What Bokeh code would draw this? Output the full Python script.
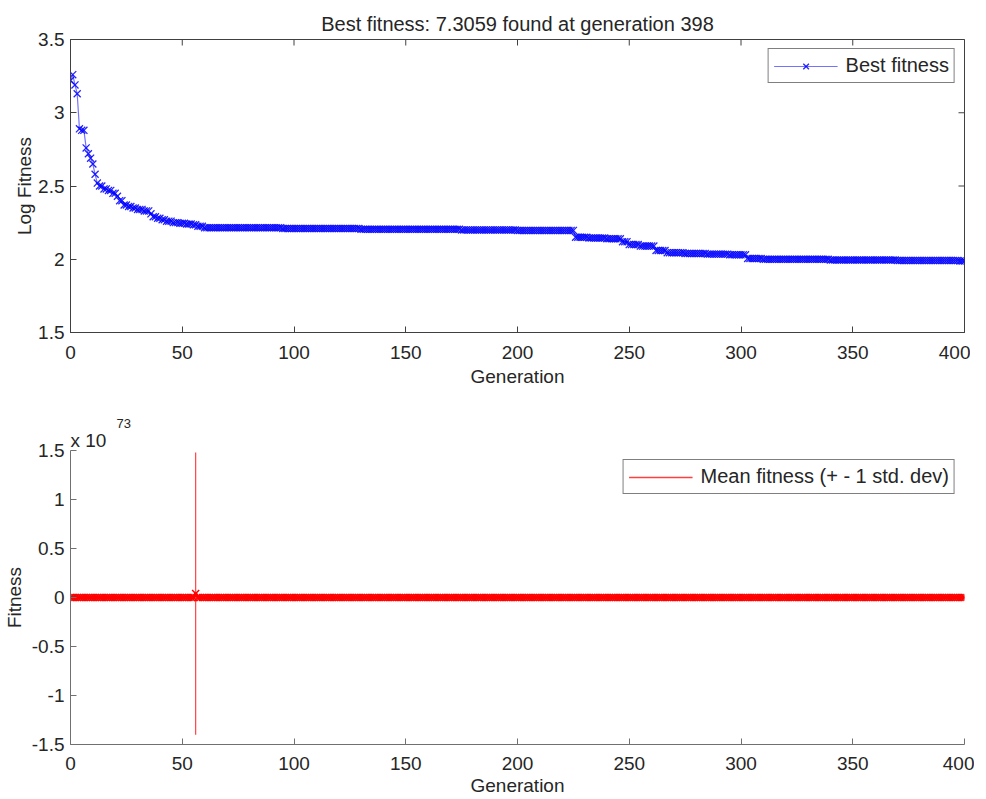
import math
from bokeh.plotting import figure
from bokeh.layouts import column
from bokeh.models import (Range1d, FixedTicker, Legend, LegendItem, ColumnDataSource, Title)
from bokeh.embed import file_html
from bokeh.resources import INLINE

FONT = "Liberation Sans"
TXT = "#262626"

# ---------------- data ----------------
generations = list(range(0, 401))

# Log best fitness: generation at which the value changes, and the new value
best_change_gen = [0, 1, 2, 3, 4, 5, 7, 8, 9, 10, 11, 12, 13, 15, 17, 19, 21, 22, 24, 26,
                   28, 30, 33, 36, 37, 39, 41, 43, 46, 49, 52, 55, 57, 60, 95, 130, 175, 200,
                   226, 232, 240, 247, 250, 255, 262, 267, 275, 285, 295, 303, 310, 340, 370, 398]
best_change_val = [3.22, 3.26, 3.19, 3.13, 2.89, 2.88, 2.76, 2.72, 2.69, 2.65, 2.58, 2.52, 2.50,
                   2.48, 2.47, 2.45, 2.43, 2.40, 2.37, 2.36, 2.35, 2.34, 2.33, 2.31, 2.29, 2.28,
                   2.27, 2.26, 2.25, 2.245, 2.24, 2.235, 2.225, 2.215, 2.21, 2.205, 2.20, 2.197,
                   2.15, 2.145, 2.14, 2.12, 2.10, 2.09, 2.06, 2.045, 2.04, 2.035, 2.03, 2.005,
                   2.0, 1.995, 1.992, 1.9887]

# Mean fitness and std. dev. (units of 1e73): generation of change, new value
mean_change_gen = [0, 56, 57]
mean_change_val = [0.0, 0.04, 0.0]
std_change_gen = [0, 56, 57]
std_change_val = [0.0, 1.44, 0.0]

x_ticks = [0, 50, 100, 150, 200, 250, 300, 350, 400]
x_labels = ["0", "50", "100", "150", "200", "250", "300", "350", "400"]
y1_ticks = [1.5, 2.0, 2.5, 3.0, 3.5]
y1_labels = ["1.5", "2", "2.5", "3", "3.5"]
y2_ticks = [-1.5, -1.0, -0.5, 0.0, 0.5, 1.0, 1.5]
y2_labels = ["-1.5", "-1", "-0.5", "0", "0.5", "1", "1.5"]

X_MIN, X_MAX = 0, 400
Y1_MIN, Y1_MAX = 1.5, 3.5
Y2_MIN, Y2_MAX = -1.5, 1.5

title_text = "Best fitness: 7.3059 found at generation 398"
scale_text = "x 10"
exponent_text = "73"


def expand(change_gen, change_val, gens):
    out = []
    j = 0
    for g in gens:
        while j + 1 < len(change_gen) and change_gen[j + 1] <= g:
            j += 1
        out.append(change_val[j])
    return out


best = expand(best_change_gen, best_change_val, generations)
mean = expand(mean_change_gen, mean_change_val, generations)
std = expand(std_change_gen, std_change_val, generations)


def style_axis(ax, ticks, labels, color):
    ax.ticker = FixedTicker(ticks=ticks)
    ax.major_label_overrides = {float(t): l for t, l in zip(ticks, labels)}
    ax.minor_tick_line_color = None
    ax.major_tick_in = 6
    ax.major_tick_out = 0
    ax.major_tick_line_color = color
    ax.axis_line_color = color
    ax.major_label_text_font = FONT
    ax.major_label_text_color = TXT
    ax.major_label_text_font_size = "19px"
    ax.axis_label_text_font = FONT
    ax.axis_label_text_font_style = "normal"
    ax.axis_label_text_color = TXT
    ax.axis_label_text_font_size = "19px"


def make_legend(label, renderers):
    return Legend(items=[LegendItem(label=label, renderers=renderers)],
                  location="top_right", margin=9, padding=5, spacing=0,
                  glyph_width=64, glyph_height=20, label_height=20, label_standoff=8,
                  label_text_font=FONT, label_text_font_size="20px", label_text_color=TXT,
                  border_line_color="#000000", border_line_width=1,
                  background_fill_color="white", background_fill_alpha=1)


# ---------------- top plot ----------------
p1 = figure(frame_width=894, frame_height=293,
            x_range=Range1d(X_MIN, X_MAX), y_range=Range1d(Y1_MIN, Y1_MAX),
            output_backend="svg", toolbar_location=None,
            min_border_left=66, min_border_right=10, min_border_top=39, min_border_bottom=76,
            title=title_text)
p1.title.align = "center"
p1.title.text_font = FONT
p1.title.text_font_size = "20px"
p1.title.text_font_style = "normal"
p1.title.text_color = TXT
p1.grid.visible = False
p1.outline_line_color = "#404040"
p1.outline_line_width = 1

style_axis(p1.xaxis[0], x_ticks, x_labels, "#404040")
style_axis(p1.yaxis[0], y1_ticks, y1_labels, "#404040")
p1.xaxis[0].axis_label = "Generation"
p1.yaxis[0].axis_label = "Log Fitness"
p1.xaxis[0].major_label_standoff = 13
p1.xaxis[0].axis_label_standoff = 4
p1.yaxis[0].major_label_standoff = 6
p1.yaxis[0].axis_label_standoff = 0

# mirrored (box) ticks on top and right edges, clipped to the frame
p1.scatter(x=x_ticks, y=[Y1_MAX] * len(x_ticks), marker="dash", angle=math.pi / 2,
           size=12, line_color="#404040", line_width=1)
p1.scatter(x=[X_MAX] * len(y1_ticks), y=y1_ticks, marker="dash",
           size=12, line_color="#404040", line_width=1)

src1 = ColumnDataSource(dict(g=generations, v=best))
l1 = p1.line("g", "v", source=src1, line_color="#0000ff", line_width=1.2, line_alpha=0.55)
s1 = p1.scatter("g", "v", source=src1, marker="x", size=10,
                line_color="#0000ff", line_width=1.3, line_alpha=0.85)
p1.add_layout(make_legend("Best fitness", [l1, s1]))

# ---------------- bottom plot ----------------
p2 = figure(frame_width=894, frame_height=294,
            x_range=Range1d(X_MIN, X_MAX), y_range=Range1d(Y2_MIN, Y2_MAX),
            output_backend="svg", toolbar_location=None,
            min_border_left=66, min_border_right=10, min_border_top=42, min_border_bottom=43)
p2.grid.visible = False
p2.outline_line_color = None

style_axis(p2.xaxis[0], x_ticks, x_labels, "#707070")
style_axis(p2.yaxis[0], y2_ticks, y2_labels, "#707070")
p2.xaxis[0].axis_label = "Generation"
p2.yaxis[0].axis_label = "Fitness"
p2.xaxis[0].major_label_standoff = 12
p2.xaxis[0].axis_label_standoff = 2
p2.yaxis[0].major_label_standoff = 6
p2.yaxis[0].axis_label_standoff = 4

lo = [m - s for m, s in zip(mean, std)]
hi = [m + s for m, s in zip(mean, std)]
src2 = ColumnDataSource(dict(g=generations, m=mean, lo=lo, hi=hi))
p2.segment(x0="g", y0="lo", x1="g", y1="hi", source=src2,
           line_color="#ff0000", line_width=1.2, line_alpha=0.75)
# thin mean line (also used as the legend sample), then the thick band of markers
thin_mean = p2.line("g", "m", source=src2, line_color="#ff4040", line_width=1.5)
p2.line("g", "m", source=src2, line_color="#ff0000", line_width=3)
p2.scatter("g", "m", source=src2, marker="x", size=10,
           line_color="#ff0000", line_width=1.5)
p2.add_layout(make_legend("Mean fitness (+ - 1 std. dev)", [thin_mean]))

# "x 10^73" multiplier above the y axis
t_scale = Title(text=scale_text, align="left", offset=0, standoff=0,
                text_font=FONT, text_font_size="19px", text_font_style="normal",
                text_color=TXT)
t_exp = Title(text=exponent_text, align="left", offset=46, standoff=0,
              text_font=FONT, text_font_size="13px", text_font_style="normal",
              text_color=TXT)
p2.add_layout(t_scale, "above")
p2.add_layout(t_exp, "above")

layout = column(p1, p2, spacing=0)
open("out.html", "w").write(file_html(layout, INLINE))
